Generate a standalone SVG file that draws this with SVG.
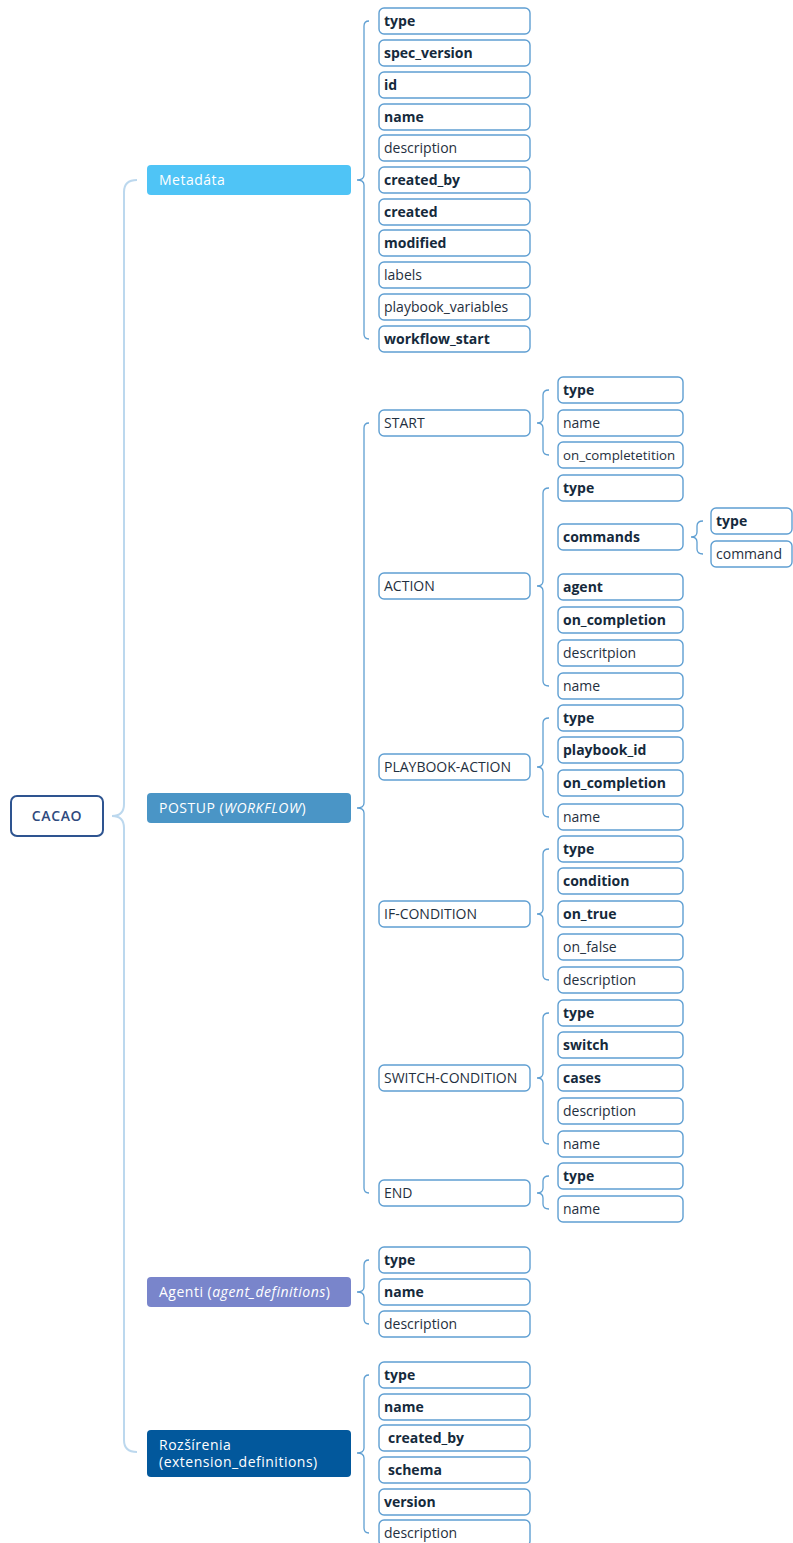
<svg xmlns="http://www.w3.org/2000/svg" width="793" height="1543" viewBox="0 0 793 1543">
<style>
.bg{fill:#ffffff}
.leaf{fill:#ffffff;stroke:#5f9fd2;stroke-width:1.4}
.t{font-family:"Open Sans","Liberation Sans",sans-serif;font-size:14px;fill:#1f3040}
.b{font-weight:bold;fill:#152a3c}
.h{font-family:"Open Sans","Liberation Sans",sans-serif;font-size:14px;letter-spacing:0.5px;fill:#ffffff}
.br{fill:none;stroke:#5f9fd2;stroke-width:1.3}
.main{fill:none;stroke:#bcd8ee;stroke-width:2}
</style>
<rect class="bg" x="0" y="0" width="793" height="1543"/>
<g id="connectors">
<path class="main" d="M137,180 Q124,180 124,192 L124,804 Q124,816 112,816 Q124,816 124,828 L124,1440 Q124,1452 137,1452"/>
<path class="br" d="M369,21 Q364,21 364,26 L364,175 Q364,180 357,180 Q364,180 364,185 L364,334 Q364,339 369,339"/>
<path class="br" d="M369,423 Q364,423 364,428 L364,803 Q364,808 357,808 Q364,808 364,813 L364,1188 Q364,1193 369,1193"/>
<path class="br" d="M369,1260 Q364,1260 364,1265 L364,1287 Q364,1292 357,1292 Q364,1292 364,1297 L364,1319 Q364,1324 369,1324"/>
<path class="br" d="M369,1375 Q364,1375 364,1380 L364,1448 Q364,1453 357,1453 Q364,1453 364,1458 L364,1528 Q364,1533 369,1533"/>
<path class="br" d="M549,390 Q543,390 543,395 L543,418 Q543,423 537,423 Q543,423 543,428 L543,450 Q543,455 549,455"/>
<path class="br" d="M549,488 Q543,488 543,493 L543,581 Q543,586 537,586 Q543,586 543,591 L543,681 Q543,686 549,686"/>
<path class="br" d="M549,718 Q543,718 543,723 L543,762 Q543,767 537,767 Q543,767 543,772 L543,812 Q543,817 549,817"/>
<path class="br" d="M549,849 Q543,849 543,854 L543,909 Q543,914 537,914 Q543,914 543,919 L543,975 Q543,980 549,980"/>
<path class="br" d="M549,1013 Q543,1013 543,1018 L543,1073 Q543,1078 537,1078 Q543,1078 543,1083 L543,1139 Q543,1144 549,1144"/>
<path class="br" d="M549,1176 Q543,1176 543,1181 L543,1188 Q543,1193 537,1193 Q543,1193 543,1198 L543,1204 Q543,1209 549,1209"/>
<path class="br" d="M703,521 Q697,521 697,526 L697,532 Q697,537 691,537 Q697,537 697,542 L697,549 Q697,554 703,554"/>
</g>
<g id="cacao">
<rect x="11" y="796" width="92" height="40" rx="6" fill="#ffffff" stroke="#2e5490" stroke-width="2"/>
<text x="57" y="821" text-anchor="middle" style="font-family:'Open Sans','Liberation Sans',sans-serif;font-size:14px;letter-spacing:0.6px;font-weight:600;fill:#2e4a7e">CACAO</text>
</g>
<g id="metadata">
<rect x="147" y="165" width="204" height="30" rx="4" fill="#4fc4f6"/>
<text class="h" x="159" y="185">Metadáta</text>
</g>
<g id="postup">
<rect x="147" y="793" width="204" height="30" rx="4" fill="#4a95c6"/>
<text class="h" x="159" y="813">POSTUP (<tspan font-style="italic">WORKFLOW</tspan>)</text>
</g>
<g id="agenti">
<rect x="147" y="1277" width="204" height="30" rx="4" fill="#7985cb"/>
<text class="h" x="159" y="1297">Agenti (<tspan font-style="italic">agent_definitions</tspan>)</text>
</g>
<g id="rozsirenia">
<rect x="147" y="1430" width="204" height="47" rx="4" fill="#02589c"/>
<text class="h" x="159" y="1450">Rozšírenia</text>
<text class="h" x="159" y="1467">(extension_definitions)</text>
</g>
<g id="meta-leaves">
<g id="m-type"><rect class="leaf" x="379" y="8" width="151" height="26" rx="5"/><text class="t b" x="384" y="26">type</text></g>
<g id="m-spec"><rect class="leaf" x="379" y="40" width="151" height="26" rx="5"/><text class="t b" x="384" y="58">spec_version</text></g>
<g id="m-id"><rect class="leaf" x="379" y="72" width="151" height="26" rx="5"/><text class="t b" x="384" y="90">id</text></g>
<g id="m-name"><rect class="leaf" x="379" y="104" width="151" height="26" rx="5"/><text class="t b" x="384" y="122">name</text></g>
<g id="m-desc"><rect class="leaf" x="379" y="135" width="151" height="26" rx="5"/><text class="t" x="384" y="153">description</text></g>
<g id="m-createdby"><rect class="leaf" x="379" y="167" width="151" height="26" rx="5"/><text class="t b" x="384" y="185">created_by</text></g>
<g id="m-created"><rect class="leaf" x="379" y="199" width="151" height="26" rx="5"/><text class="t b" x="384" y="217">created</text></g>
<g id="m-modified"><rect class="leaf" x="379" y="230" width="151" height="26" rx="5"/><text class="t b" x="384" y="248">modified</text></g>
<g id="m-labels"><rect class="leaf" x="379" y="262" width="151" height="26" rx="5"/><text class="t" x="384" y="280">labels</text></g>
<g id="m-pvars"><rect class="leaf" x="379" y="294" width="151" height="26" rx="5"/><text class="t" x="384" y="312">playbook_variables</text></g>
<g id="m-wfstart"><rect class="leaf" x="379" y="326" width="151" height="26" rx="5"/><text class="t b" x="384" y="344">workflow_start</text></g>
</g>
<g id="steps">
<g id="s-start"><rect class="leaf" x="379" y="410" width="151" height="26" rx="5"/><text class="t" x="384" y="428">START</text></g>
<g id="s-action"><rect class="leaf" x="379" y="573" width="151" height="26" rx="5"/><text class="t" x="384" y="591">ACTION</text></g>
<g id="s-pbaction"><rect class="leaf" x="379" y="754" width="151" height="26" rx="5"/><text class="t" x="384" y="772">PLAYBOOK-ACTION</text></g>
<g id="s-if"><rect class="leaf" x="379" y="901" width="151" height="26" rx="5"/><text class="t" x="384" y="919">IF-CONDITION</text></g>
<g id="s-switch"><rect class="leaf" x="379" y="1065" width="151" height="26" rx="5"/><text class="t" x="384" y="1083">SWITCH-CONDITION</text></g>
<g id="s-end"><rect class="leaf" x="379" y="1180" width="151" height="26" rx="5"/><text class="t" x="384" y="1198">END</text></g>
</g>
<g id="step-leaves">
<g id="st-type"><rect class="leaf" x="558" y="377" width="125" height="26" rx="5"/><text class="t b" x="563" y="395">type</text></g>
<g id="st-name"><rect class="leaf" x="558" y="410" width="125" height="26" rx="5"/><text class="t" x="563" y="428">name</text></g>
<g id="st-onc"><rect class="leaf" x="558" y="442" width="125" height="26" rx="5"/><text class="t" x="563" y="460" style="font-size:13.3px">on_completetition</text></g>
<g id="ac-type"><rect class="leaf" x="558" y="475" width="125" height="26" rx="5"/><text class="t b" x="563" y="493">type</text></g>
<g id="ac-commands"><rect class="leaf" x="558" y="524" width="125" height="26" rx="5"/><text class="t b" x="563" y="542">commands</text></g>
<g id="ac-agent"><rect class="leaf" x="558" y="574" width="125" height="26" rx="5"/><text class="t b" x="563" y="592">agent</text></g>
<g id="ac-onc"><rect class="leaf" x="558" y="607" width="125" height="26" rx="5"/><text class="t b" x="563" y="625">on_completion</text></g>
<g id="ac-desc"><rect class="leaf" x="558" y="640" width="125" height="26" rx="5"/><text class="t" x="563" y="658">descritpion</text></g>
<g id="ac-name"><rect class="leaf" x="558" y="673" width="125" height="26" rx="5"/><text class="t" x="563" y="691">name</text></g>
<g id="cmd-type"><rect class="leaf" x="711" y="508" width="81" height="26" rx="5"/><text class="t b" x="716" y="526">type</text></g>
<g id="cmd-command"><rect class="leaf" x="711" y="541" width="81" height="26" rx="5"/><text class="t" x="716" y="559">command</text></g>
<g id="pb-type"><rect class="leaf" x="558" y="705" width="125" height="26" rx="5"/><text class="t b" x="563" y="723">type</text></g>
<g id="pb-id"><rect class="leaf" x="558" y="737" width="125" height="26" rx="5"/><text class="t b" x="563" y="755">playbook_id</text></g>
<g id="pb-onc"><rect class="leaf" x="558" y="770" width="125" height="26" rx="5"/><text class="t b" x="563" y="788">on_completion</text></g>
<g id="pb-name"><rect class="leaf" x="558" y="804" width="125" height="26" rx="5"/><text class="t" x="563" y="822">name</text></g>
<g id="if-type"><rect class="leaf" x="558" y="836" width="125" height="26" rx="5"/><text class="t b" x="563" y="854">type</text></g>
<g id="if-cond"><rect class="leaf" x="558" y="868" width="125" height="26" rx="5"/><text class="t b" x="563" y="886">condition</text></g>
<g id="if-true"><rect class="leaf" x="558" y="901" width="125" height="26" rx="5"/><text class="t b" x="563" y="919">on_true</text></g>
<g id="if-false"><rect class="leaf" x="558" y="934" width="125" height="26" rx="5"/><text class="t" x="563" y="952">on_false</text></g>
<g id="if-desc"><rect class="leaf" x="558" y="967" width="125" height="26" rx="5"/><text class="t" x="563" y="985">description</text></g>
<g id="sw-type"><rect class="leaf" x="558" y="1000" width="125" height="26" rx="5"/><text class="t b" x="563" y="1018">type</text></g>
<g id="sw-switch"><rect class="leaf" x="558" y="1032" width="125" height="26" rx="5"/><text class="t b" x="563" y="1050">switch</text></g>
<g id="sw-cases"><rect class="leaf" x="558" y="1065" width="125" height="26" rx="5"/><text class="t b" x="563" y="1083">cases</text></g>
<g id="sw-desc"><rect class="leaf" x="558" y="1098" width="125" height="26" rx="5"/><text class="t" x="563" y="1116">description</text></g>
<g id="sw-name"><rect class="leaf" x="558" y="1131" width="125" height="26" rx="5"/><text class="t" x="563" y="1149">name</text></g>
<g id="end-type"><rect class="leaf" x="558" y="1163" width="125" height="26" rx="5"/><text class="t b" x="563" y="1181">type</text></g>
<g id="end-name"><rect class="leaf" x="558" y="1196" width="125" height="26" rx="5"/><text class="t" x="563" y="1214">name</text></g>
</g>
<g id="agent-leaves">
<g id="ag-type"><rect class="leaf" x="379" y="1247" width="151" height="26" rx="5"/><text class="t b" x="384" y="1265">type</text></g>
<g id="ag-name"><rect class="leaf" x="379" y="1279" width="151" height="26" rx="5"/><text class="t b" x="384" y="1297">name</text></g>
<g id="ag-desc"><rect class="leaf" x="379" y="1311" width="151" height="26" rx="5"/><text class="t" x="384" y="1329">description</text></g>
</g>
<g id="ext-leaves">
<g id="ex-type"><rect class="leaf" x="379" y="1362" width="151" height="26" rx="5"/><text class="t b" x="384" y="1380">type</text></g>
<g id="ex-name"><rect class="leaf" x="379" y="1394" width="151" height="26" rx="5"/><text class="t b" x="384" y="1412">name</text></g>
<g id="ex-createdby"><rect class="leaf" x="379" y="1425" width="151" height="26" rx="5"/><text class="t b" x="388" y="1443">created_by</text></g>
<g id="ex-schema"><rect class="leaf" x="379" y="1457" width="151" height="26" rx="5"/><text class="t b" x="388" y="1475">schema</text></g>
<g id="ex-version"><rect class="leaf" x="379" y="1489" width="151" height="26" rx="5"/><text class="t b" x="384" y="1507">version</text></g>
<g id="ex-desc"><rect class="leaf" x="379" y="1520" width="151" height="26" rx="5"/><text class="t" x="384" y="1538">description</text></g>
</g>
</svg>
